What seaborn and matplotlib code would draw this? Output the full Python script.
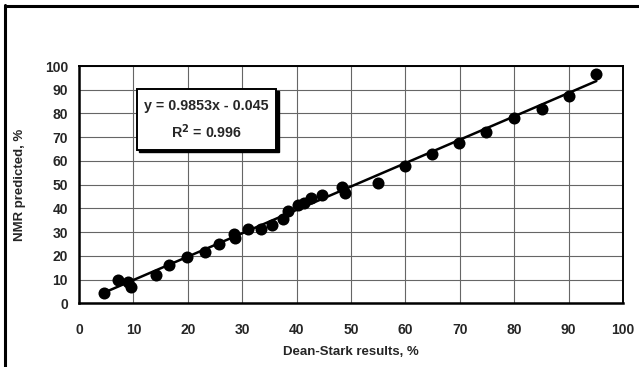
import numpy as np
import pandas as pd
import matplotlib
matplotlib.use("Agg")
import matplotlib.pyplot as plt
import seaborn as sns
from matplotlib.lines import Line2D
from matplotlib.patches import Rectangle

dean_stark = [4.6, 7.1, 9.0, 9.5, 14.1, 16.6, 19.9, 23.1, 25.8, 28.5, 28.7, 31.0,
              33.4, 35.4, 37.5, 38.4, 40.3, 41.4, 42.7, 44.7, 48.4, 48.9, 55.0,
              59.9, 64.9, 69.9, 74.9, 80.0, 85.1, 90.1, 95.1]
nmr_pred = [4.5, 9.7, 9.0, 7.0, 12.1, 16.0, 19.7, 21.8, 24.9, 29.2, 27.5, 31.2,
            31.5, 32.9, 35.4, 39.0, 41.3, 42.4, 44.2, 45.8, 49.0, 46.6, 50.8,
            57.9, 62.9, 67.4, 72.2, 78.1, 81.7, 87.4, 96.6]
slope, intercept = 0.9853, -0.045
fit_x = [4.6, 95.1]
fit_y = [slope * v + intercept for v in fit_x]
ticks = [0, 10, 20, 30, 40, 50, 60, 70, 80, 90, 100]

sns.set_style("white")
plt.rcParams['font.family'] = ['Liberation Sans', 'DejaVu Sans']
plt.rcParams['font.weight'] = 'bold'

fig = plt.figure(figsize=(6.39, 3.67), dpi=100)
ax = fig.add_axes([79/639, 1-303.3/367, 544/639, 237.3/367])

df = pd.DataFrame({"x": dean_stark, "y": nmr_pred})
fit = pd.DataFrame({"x": fit_x, "y": fit_y})
sns.lineplot(data=fit, x="x", y="y", ax=ax, color="black", lw=1.8, zorder=3)
sns.scatterplot(data=df, x="x", y="y", ax=ax, color="black", s=75,
                edgecolor="black", linewidth=0, zorder=4)

ax.set_xlim(0, 100)
ax.set_ylim(0, 100)
ax.set_xticks(ticks)
ax.set_yticks(ticks)
ax.set_xticklabels([str(t) for t in ticks], fontsize=10, fontweight='bold')
ax.set_yticklabels([str(t) for t in ticks], fontsize=10, fontweight='bold')
ax.grid(True, color="#666666", lw=0.8)
ax.set_axisbelow(True)
ax.tick_params(axis='x', direction='out', length=3, width=1.2, pad=11, color='black')
ax.tick_params(axis='y', direction='out', length=3, width=1.2, pad=5, color='black')
for side in ['left', 'bottom']:
    ax.spines[side].set_linewidth(1.8)
for side in ['top', 'right']:
    ax.spines[side].set_linewidth(1.4)
for s in ax.spines.values():
    s.set_color('black')

ax.set_xlabel("Dean-Stark results, %", fontsize=9.5, fontweight='bold')
ax.set_ylabel("NMR predicted, %", fontsize=9.5, fontweight='bold')
ax.xaxis.set_label_coords(0.5, -0.178)
ax.yaxis.set_label_coords(-0.097, 0.5)

# equation box with shadow
shadow = Rectangle((11.0, 63.8), 25.7, 25.6, facecolor='black', edgecolor='black',
                   zorder=5, transform=ax.transData)
box = Rectangle((10.6, 64.7), 25.7, 25.6, facecolor='white', edgecolor='black',
                lw=1.4, zorder=6, transform=ax.transData)
ax.add_patch(shadow)
ax.add_patch(box)
ax.text(23.45, 83.0, "y = 0.9853x - 0.045", ha='center', va='center', fontsize=10.3,
        fontweight='bold', zorder=7)
ax.text(23.45, 72.2, r"R$^{\mathbf{2}}$ = 0.996", ha='center', va='center', fontsize=10.3,
        fontweight='bold', zorder=7)

# outer frame (left and top only)
fig.add_artist(Line2D([5/639, 5/639], [0, 1-5/367], color='black', lw=2.2,
                      transform=fig.transFigure))
fig.add_artist(Line2D([5/639, 1], [1-6/367, 1-6/367], color='black', lw=2.2,
                      transform=fig.transFigure))

fig.savefig("out.png", dpi=100)
